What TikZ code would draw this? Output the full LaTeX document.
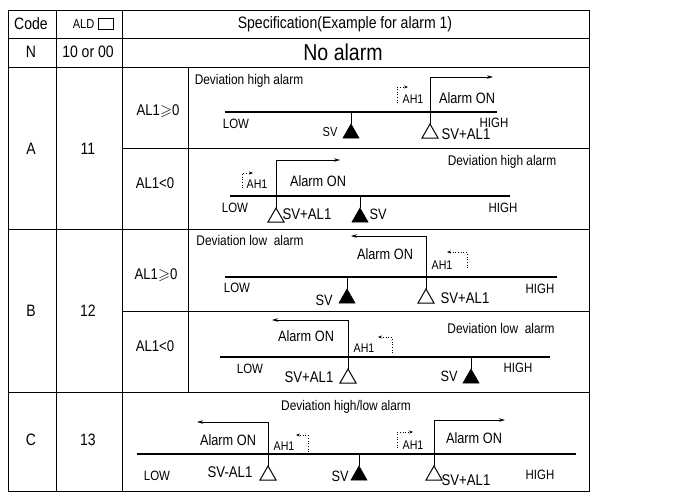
\documentclass[tikz,border=0pt]{standalone}
\usepackage{fontspec}
\setmainfont{Liberation Sans}[FakeStretch=0.85]
\usepackage{amssymb}
\usetikzlibrary{arrows.meta}
\tikzset{
  tline/.style={line width=0.9pt},
  axisline/.style={line width=1.2pt},
  alarmarrow/.style={line width=0.8pt,-{Stealth[length=6pt,width=3.5pt]}},
  hookarrow/.style={line width=0.7pt,dotted,-{Stealth[length=4pt,width=3pt]}},
  txt/.style={inner sep=0pt,outer sep=0pt},
  hdr/.style={txt,font=\fontsize{16.5}{18}\selectfont},
  big/.style={txt,font=\fontsize{23}{25}\selectfont},
  small/.style={txt,font=\fontsize{13}{14}\selectfont},
  devtxt/.style={txt,font=\fontsize{14}{15}\selectfont},
  aon/.style={txt,font=\fontsize{15}{16}\selectfont},
  ah/.style={txt,font=\fontsize{12.5}{13}\selectfont},
  lohi/.style={txt,font=\fontsize{13.5}{14}\selectfont},
  svtxt/.style={txt,font=\fontsize{15}{16}\selectfont},
  svsmall/.style={txt,font=\fontsize{13}{14}\selectfont},
  sval/.style={txt,font=\fontsize{15.5}{16}\selectfont},
  altxt/.style={txt,font=\fontsize{15.5}{16}\selectfont},
  ftri/.pic={\draw[line width=1pt] (0,0) -- (0,12);
             \filldraw[line width=0.6pt] (0,12) -- (-8,26) -- (8,26) -- cycle;},
  otri/.pic={\draw[line width=1pt] (0,0) -- (0,12);
             \draw[line width=1pt,line join=miter] (0,12) -- (-8,26) -- (8,26) -- cycle;}
}
\begin{document}
\begin{tikzpicture}[x=1pt,y=-1pt]
\useasboundingbox (0,0) rectangle (685,495);
% ---------------- table grid
\draw[tline] (8,10) rectangle (589,491);
\draw[tline] (8,38) -- (589,38);
\draw[tline] (8,67) -- (589,67);
\draw[tline] (8,229) -- (589,229);
\draw[tline] (8,392) -- (589,392);
\draw[tline] (122,148) -- (589,148);
\draw[tline] (122,311) -- (589,311);
\draw[tline] (56,10) -- (56,491);
\draw[tline] (122,10) -- (122,491);
\draw[tline] (188,67) -- (188,392);
% ---------------- header
\node[hdr] (hcode) at (31,24) {Code};
\node[small] (hald) at (83.5,24) {ALD};
\draw[line width=0.7pt] (98,18) rectangle (113,29);
\node[hdr] (hspec) at (345,24) {Specification(Example for alarm 1)};
\node[hdr] (nN) at (31,52) {N};
\node[hdr] (n10) at (88,52) {10 or 00};
\node[big] (nno) at (343,52) {No alarm};
\node[hdr] (cA) at (31,149) {A};
\node[hdr] (c11) at (88,149) {11};
\node[hdr] (cB) at (31,311) {B};
\node[hdr] (c12) at (88,311) {12};
\node[hdr] (cC) at (31,440) {C};
\node[hdr] (c13) at (88,440) {13};
\node[altxt] (a1c) at (158,111) {AL1$\geqslant$0};
\node[altxt] (a2c) at (155,183) {AL1<0};
\node[altxt] (b1c) at (156,275) {AL1$\geqslant$0};
\node[altxt] (b2c) at (155,346) {AL1<0};
% ---------------- A1
\node[devtxt] (a1t) at (249,81) {Deviation high alarm};
\coordinate (a1l) at (225,112); \coordinate (a1r) at (497,112);
\draw[axisline] (a1l) -- (a1r);
\node[lohi] (a1low) at (236,124) {LOW};
\node[lohi] (a1high) at (494,123) {HIGH};
\coordinate (a1sv) at (351,112); \pic at (a1sv) {ftri};
\node[svsmall] (a1svt) at (330,132) {SV};
\coordinate (a1al) at (430,112); \pic at (a1al) {otri};
\node[sval] (a1alt) at (466,134) {SV+AL1};
\coordinate (a1e) at (493,77);
\draw[alarmarrow] (a1al) |- (a1e);
\node[aon] (a1on) at (467,98) {Alarm ON};
\node[ah] (a1ah) at (413,99) {AH1};
\coordinate (a1h0) at (397,103); \coordinate (a1h1) at (408,87);
\draw[hookarrow] (a1h0) |- (a1h1);
% ---------------- A2
\node[devtxt] (a2t) at (502,162) {Deviation high alarm};
\coordinate (a2l) at (230,196); \coordinate (a2r) at (510,196);
\draw[axisline] (a2l) -- (a2r);
\node[lohi] (a2low) at (235,208) {LOW};
\node[lohi] (a2high) at (503,208) {HIGH};
\coordinate (a2al) at (276,196); \pic at (a2al) {otri};
\node[sval] (a2alt) at (307,214) {SV+AL1};
\coordinate (a2sv) at (360,196); \pic at (a2sv) {ftri};
\node[svtxt] (a2svt) at (378,214) {SV};
\coordinate (a2e) at (340,160);
\draw[alarmarrow] (a2al) |- (a2e);
\node[aon] (a2on) at (318,181) {Alarm ON};
\node[ah] (a2ah) at (257,184) {AH1};
\coordinate (a2h0) at (242,188); \coordinate (a2h1) at (253,173);
\draw[hookarrow] (a2h0) |- (a2h1);
% ---------------- B1
\node[devtxt] (b1t) at (250,240) {Deviation low\ \ alarm};
\coordinate (b1l) at (225,277); \coordinate (b1r) at (557,277);
\draw[axisline] (b1l) -- (b1r);
\node[lohi] (b1low) at (237,288) {LOW};
\node[lohi] (b1high) at (540,289) {HIGH};
\coordinate (b1sv) at (347,277); \pic at (b1sv) {ftri};
\node[svtxt] (b1svt) at (324,300) {SV};
\coordinate (b1al) at (426,277); \pic at (b1al) {otri};
\node[sval] (b1alt) at (465,298) {SV+AL1};
\coordinate (b1e) at (351,236);
\draw[alarmarrow] (b1al) |- (b1e);
\node[aon] (b1on) at (385,254) {Alarm ON};
\node[ah] (b1ah) at (442,265) {AH1};
\coordinate (b1h0) at (467,268); \coordinate (b1h1) at (447,252);
\draw[hookarrow] (b1h0) |- (b1h1);
% ---------------- B2
\node[devtxt] (b2t) at (501,328) {Deviation low\ \ alarm};
\coordinate (b2l) at (220,357); \coordinate (b2r) at (550,357);
\draw[axisline] (b2l) -- (b2r);
\node[lohi] (b2low) at (250,369) {LOW};
\node[lohi] (b2high) at (518,368) {HIGH};
\coordinate (b2al) at (348,357); \pic at (b2al) {otri};
\node[sval] (b2alt) at (309,377) {SV+AL1};
\coordinate (b2sv) at (471,357); \pic at (b2sv) {ftri};
\node[svtxt] (b2svt) at (449,376) {SV};
\coordinate (b2e) at (272,320);
\draw[alarmarrow] (b2al) |- (b2e);
\node[aon] (b2on) at (306,336) {Alarm ON};
\node[ah] (b2ah) at (364,348) {AH1};
\coordinate (b2h0) at (392,353); \coordinate (b2h1) at (378,337);
\draw[hookarrow] (b2h0) |- (b2h1);
% ---------------- C
\node[devtxt] (ct) at (346,407) {Deviation high/low alarm};
\coordinate (cl) at (137,454); \coordinate (cr) at (576,454);
\draw[axisline] (cl) -- (cr);
\node[lohi] (clow) at (157,476) {LOW};
\node[lohi] (chigh) at (540,475) {HIGH};
\coordinate (cml) at (268,454); \pic at (cml) {otri};
\node[sval] (cmlt) at (230,472) {SV-AL1};
\coordinate (csv) at (359,454); \pic at (csv) {ftri};
\node[svtxt] (csvt) at (340,476) {SV};
\coordinate (cpl) at (434,454); \pic at (cpl) {otri};
\node[sval] (cplt) at (466,480) {SV+AL1};
\coordinate (ce1) at (197,422);
\draw[alarmarrow] (cml) |- (ce1);
\node[aon] (con1) at (228,440) {Alarm ON};
\node[ah] (cah1) at (284,446) {AH1};
\coordinate (ch0) at (308,452); \coordinate (ch1) at (296,435);
\draw[hookarrow] (ch0) |- (ch1);
\coordinate (ce2) at (505,420);
\draw[alarmarrow] (cpl) |- (ce2);
\node[aon] (con2) at (474,438) {Alarm ON};
\node[ah] (cah2) at (413,445) {AH1};
\coordinate (ch2) at (397,448); \coordinate (ch3) at (413,432);
\draw[hookarrow] (ch2) |- (ch3);
\end{tikzpicture}
\end{document}
